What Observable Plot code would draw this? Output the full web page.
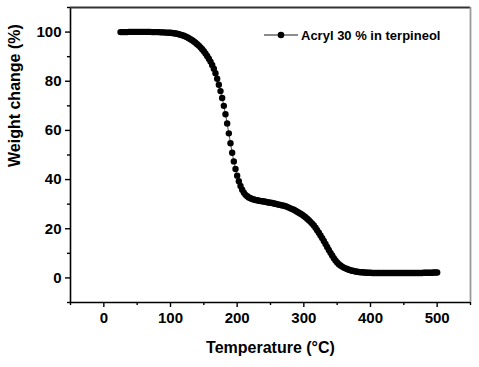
<!DOCTYPE html>
<html>
<head>
<meta charset="utf-8">
<script src="https://cdn.jsdelivr.net/npm/d3@7"></script>
<script src="https://cdn.jsdelivr.net/npm/@observablehq/plot@0.6"></script>
<style>
  html, body { margin: 0; padding: 0; background: white; }
  #chart { position: relative; width: 479px; height: 367px; }
</style>
</head>
<body>
<div id="chart"></div>
<script>
const seriesName = "Acryl 30 % in terpineol";
const xLabel = "Temperature (°C)";
const yLabel = "Weight change (%)";
const xMajorTicks = [0, 100, 200, 300, 400, 500];
const xMinorTicks = [-50, 50, 150, 250, 350, 450, 550];
const yMajorTicks = [0, 20, 40, 60, 80, 100];
const yMinorTicks = [-10, 10, 30, 50, 70, 90, 110];

const temps = [
  25,27.5,30,32.5,35,37.5,40,42.5,45,47.5,50,52.5,55,57.5,60,62.5,65,67.5,70,72.5,
  75,77.5,80,82.5,85,87.5,90,92.5,95,97.5,100,
  102.5,105,107.5,110,112.5,115,117.5,120,122.5,125,
  127.5,130,132.5,135,137.5,140,142.5,145,147.5,150,
  152.5,155,157.5,160,162.5,165,167.5,170,172.5,175,
  177.5,180,182.5,185,187.5,190,192.5,195,197.5,200,
  202.5,205,207.5,210,212.5,215,217.5,220,222.5,225,
  227.5,230,232.5,235,237.5,240,242.5,245,247.5,250,
  252.5,255,257.5,260,262.5,265,267.5,270,272.5,275,
  277.5,280,282.5,285,287.5,290,292.5,295,297.5,300,
  302.5,305,307.5,310,312.5,315,317.5,320,322.5,325,
  327.5,330,332.5,335,337.5,340,342.5,345,347.5,350,
  352.5,355,357.5,360,362.5,365,367.5,370,372.5,375,
  377.5,380,382.5,385,387.5,390,392.5,395,397.5,400,
  402.5,405,407.5,410,412.5,415,417.5,420,422.5,425,
  427.5,430,432.5,435,437.5,440,442.5,445,447.5,450,
  452.5,455,457.5,460,462.5,465,467.5,470,472.5,475,
  477.5,480,482.5,485,487.5,490,492.5,495,497.5,500
];
const weights = [
  100.0,100.0,100.0,100.0,100.0,
  100.1,100.1,100.1,100.1,100.1,100.1,100.1,100.1,100.1,100.1,100.1,100.1,100.1,100.1,
  100.0,100.0,100.0,100.0,100.0,
  99.9,99.9,99.9,99.8,99.8,99.7,99.7,
  99.6,99.5,99.4,99.3,99.1,98.9,98.7,98.5,98.2,97.9,
  97.5,97.1,96.7,96.2,95.7,95.1,94.5,93.8,93.0,92.2,
  91.3,90.3,89.2,88.0,86.6,85.1,83.3,81.0,78.6,76.0,
  73.2,70.0,66.6,62.8,58.8,54.8,50.9,47.4,44.3,41.6,
  39.3,37.4,35.9,34.7,33.8,33.2,32.7,32.4,32.1,31.9,
  31.7,31.6,31.4,31.3,31.2,31.1,31.0,30.8,30.7,30.6,
  30.5,30.3,30.2,30.0,29.8,29.7,29.5,29.4,29.2,28.9,
  28.6,28.3,28.0,27.7,27.3,26.9,26.5,26.1,25.7,25.2,
  24.7,24.1,23.5,22.8,22.1,21.3,20.4,19.4,18.4,17.3,
  16.2,15.0,13.8,12.6,11.4,10.2,9.1,8.0,7.1,6.3,
  5.6,5.1,4.6,4.2,3.9,3.6,3.3,3.1,2.9,2.8,
  2.6,2.5,2.4,2.3,2.3,2.2,2.2,2.1,2.1,2.1,
  2.0,2.0,2.0,2.0,2.0,2.0,2.0,2.0,2.0,2.0,
  2.0,2.0,2.0,2.0,2.0,2.0,2.0,2.0,2.0,2.0,
  2.0,2.0,2.0,2.0,2.0,2.0,2.0,2.0,2.0,2.0,
  2.0,2.1,2.1,2.1,2.1,2.1,2.1,2.2,2.2,2.2
];

const data = temps.map((t, i) => ({T: t, W: weights[i]}));

const font = "'Liberation Sans', Arial, Helvetica, sans-serif";

const chart = Plot.plot({
  width: 479,
  height: 367,
  marginLeft: 70,
  marginRight: 9,
  marginTop: 7,
  marginBottom: 65,
  x: {domain: [-50, 550]},
  y: {domain: [-10, 110]},
  style: {fontFamily: font, fontWeight: "bold", fontSize: "15px", color: "black", background: "white", overflow: "visible"},
  marks: [
    Plot.ruleX([-50], {stroke: "black", strokeWidth: 1.6}),
    Plot.ruleY([-10], {stroke: "black", strokeWidth: 1.6}),
    Plot.ruleY([110], {stroke: "#333", strokeWidth: 1.8}),
    Plot.ruleX([550], {stroke: "#999", strokeWidth: 1.8}),
    Plot.axisX(xMajorTicks, {tickSize: 5, tickPadding: 5, strokeWidth: 1.4, fontSize: 15, fontWeight: "bold", label: null, tickFormat: d => String(d)}),
    Plot.axisX(xMinorTicks, {tickSize: 3, strokeWidth: 1.4, label: null, tickFormat: () => ""}),
    Plot.axisY(yMajorTicks, {tickSize: 5, tickPadding: 4, strokeWidth: 1.4, fontSize: 15, fontWeight: "bold", label: null, tickFormat: d => String(d)}),
    Plot.axisY(yMinorTicks, {tickSize: 3, strokeWidth: 1.4, label: null, tickFormat: () => ""}),
    Plot.line(data, {x: "T", y: "W", stroke: "#555", strokeWidth: 1}),
    Plot.dot(data, {x: "T", y: "W", r: 3.2, fill: "black", stroke: "none"}),
    Plot.text([xLabel], {text: d => d, frameAnchor: "bottom", dy: 50, fontSize: 16, fontWeight: "bold", fill: "black"}),
    Plot.text([yLabel], {text: d => d, frameAnchor: "left", dx: -56, dy: 12, rotate: -90, fontSize: 16, fontWeight: "bold", fill: "black"})
  ]
});

document.getElementById("chart").appendChild(chart);

// legend (top right, inside frame)
const svg = d3.select(chart);
const lg = svg.append("g").attr("aria-label", "legend").attr("text-anchor", "start");
lg.append("line").attr("x1", 264).attr("x2", 298).attr("y1", 35).attr("y2", 35)
  .attr("stroke", "#666").attr("stroke-width", 1.3);
lg.append("circle").attr("cx", 281).attr("cy", 35).attr("r", 3.3).attr("fill", "black");
lg.append("text").attr("x", 301).attr("y", 39.5).attr("text-anchor", "start")
  .attr("font-family", font).attr("font-weight", "bold").attr("font-size", 13)
  .attr("fill", "black").text(seriesName);
</script>
</body>
</html>
